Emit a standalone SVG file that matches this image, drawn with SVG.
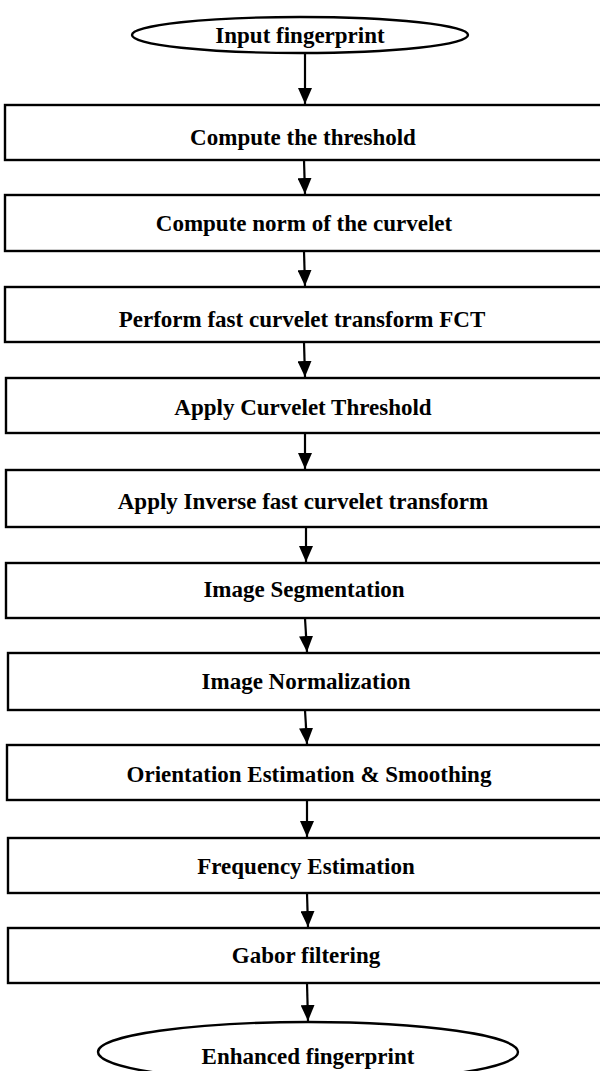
<svg xmlns="http://www.w3.org/2000/svg" width="600" height="1071" viewBox="0 0 600 1071">
  <defs>
    <style>
      .box { fill: #fff; stroke: #000; stroke-width: 2.4; }
      .term { fill: #fff; stroke: #000; stroke-width: 2.4; }
      .lbl { font-family: "Liberation Serif", "Times New Roman", serif; font-weight: bold; font-size: 23px; fill: #000; text-anchor: middle; }
      .edge { stroke: #000; stroke-width: 2.2; fill: none; marker-end: url(#head); }
    </style>
    <!-- filled triangular arrowhead, tip at the end of the line -->
    <marker id="head" viewBox="0 0 16 14" refX="16" refY="7" markerWidth="16" markerHeight="14" markerUnits="userSpaceOnUse" orient="auto">
      <path d="M0,0 L16,7 L0,14 Z" fill="#000"/>
    </marker>
  </defs>

  <g id="connectors">
    <line class="edge" x1="305" y1="53" x2="305" y2="104"/>
    <line class="edge" x1="304" y1="160" x2="305" y2="194"/>
    <line class="edge" x1="304" y1="251" x2="305" y2="286"/>
    <line class="edge" x1="304" y1="342" x2="305" y2="377"/>
    <line class="edge" x1="305" y1="433" x2="305" y2="469"/>
    <line class="edge" x1="306" y1="527" x2="306" y2="562"/>
    <line class="edge" x1="305" y1="618" x2="307" y2="652"/>
    <line class="edge" x1="305" y1="710" x2="307" y2="744"/>
    <line class="edge" x1="307" y1="800" x2="307" y2="837"/>
    <line class="edge" x1="307" y1="893" x2="308" y2="927"/>
    <line class="edge" x1="307" y1="983" x2="308" y2="1021"/>
  </g>

  <g id="n0"><ellipse class="term" cx="300" cy="35" rx="168" ry="18"/><text class="lbl" x="300" y="43">Input fingerprint</text></g>
  <g id="n1"><rect class="box" x="5" y="105" width="600" height="55"/><text class="lbl" x="303" y="145">Compute the threshold</text></g>
  <g id="n2"><rect class="box" x="5" y="195" width="600" height="56"/><text class="lbl" x="304" y="231">Compute norm of the curvelet</text></g>
  <g id="n3"><rect class="box" x="5" y="287" width="600" height="55"/><text class="lbl" x="302" y="327">Perform fast curvelet transform FCT</text></g>
  <g id="n4"><rect class="box" x="6" y="378" width="600" height="55"/><text class="lbl" x="303" y="415">Apply Curvelet Threshold</text></g>
  <g id="n5"><rect class="box" x="6" y="470" width="600" height="57"/><text class="lbl" x="303" y="509">Apply Inverse fast curvelet transform</text></g>
  <g id="n6"><rect class="box" x="6" y="563" width="600" height="55"/><text class="lbl" x="304" y="597">Image Segmentation</text></g>
  <g id="n7"><rect class="box" x="8" y="653" width="600" height="57"/><text class="lbl" x="306" y="689">Image Normalization</text></g>
  <g id="n8"><rect class="box" x="7" y="745" width="600" height="55"/><text class="lbl" x="309" y="782">Orientation Estimation &amp; Smoothing</text></g>
  <g id="n9"><rect class="box" x="8" y="838" width="600" height="55"/><text class="lbl" x="306" y="874">Frequency Estimation</text></g>
  <g id="n10"><rect class="box" x="8" y="928" width="600" height="55"/><text class="lbl" x="306" y="963">Gabor filtering</text></g>
  <g id="n11"><ellipse class="term" cx="308" cy="1052" rx="210" ry="30"/><text class="lbl" x="308" y="1064">Enhanced fingerprint</text></g>
</svg>
